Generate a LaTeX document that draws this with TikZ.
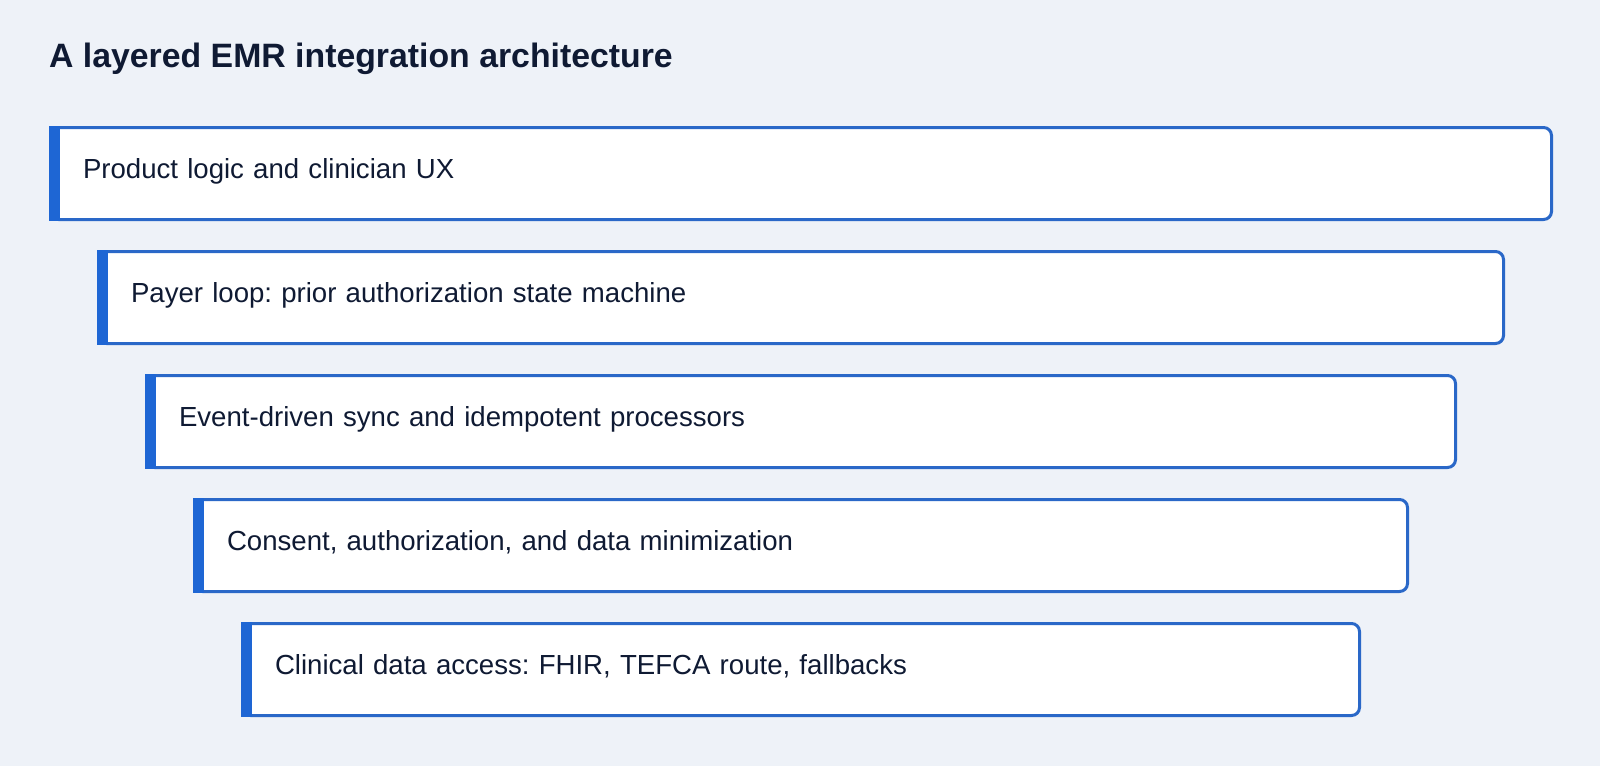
\documentclass[tikz,border=0pt]{standalone}
\usepackage{fontspec}
\setmainfont{Liberation Sans}
\frenchspacing
\definecolor{pagebg}{HTML}{EEF2F8}
\definecolor{edgeblue}{HTML}{2A68C8}
\definecolor{barblue}{HTML}{1E66D4}
\definecolor{ink}{HTML}{0F1A33}

\begin{document}
\begin{tikzpicture}[
            x=1pt, y=-1pt,
            layer/.style={draw=edgeblue, line width=3pt, fill=white, rounded corners=8pt,
                anchor=north west, minimum height=92pt, inner xsep=32.5pt,
                text height=18pt, text depth=9pt, align=left, text=ink,
                font=\fontsize{27.6}{34}\selectfont},
            bar/.style={fill=barblue}
        ]
            \useasboundingbox[fill=pagebg] (0,0) rectangle (1600,766);

            \node[anchor=base west, inner sep=0pt, text=ink,
                font=\bfseries\fontsize{33.8}{40}\selectfont] (title) at (49,67)
                {A layered EMR integration architecture};

            \node[layer, text width=1436pt] (product) at (49,126) {Product logic and clinician UX};
            \node[layer, text width=1340pt] (payer) at (97,250) {Payer loop: prior authorization state machine};
            \node[layer, text width=1244pt] (sync) at (145,374) {Event-driven sync and idempotent processors};
            \node[layer, text width=1148pt] (consent) at (193,498) {Consent, authorization, and data minimization};
            \node[layer, text width=1052pt] (clinical) at (241,622) {Clinical data access: FHIR, TEFCA route, fallbacks};

            % accent strip on the left edge of each layer
            \foreach \n in {product, payer, sync, consent, clinical}
                \fill[bar] (\n.north west) rectangle ([xshift=11pt]\n.south west);
        \end{tikzpicture}
\end{document}
